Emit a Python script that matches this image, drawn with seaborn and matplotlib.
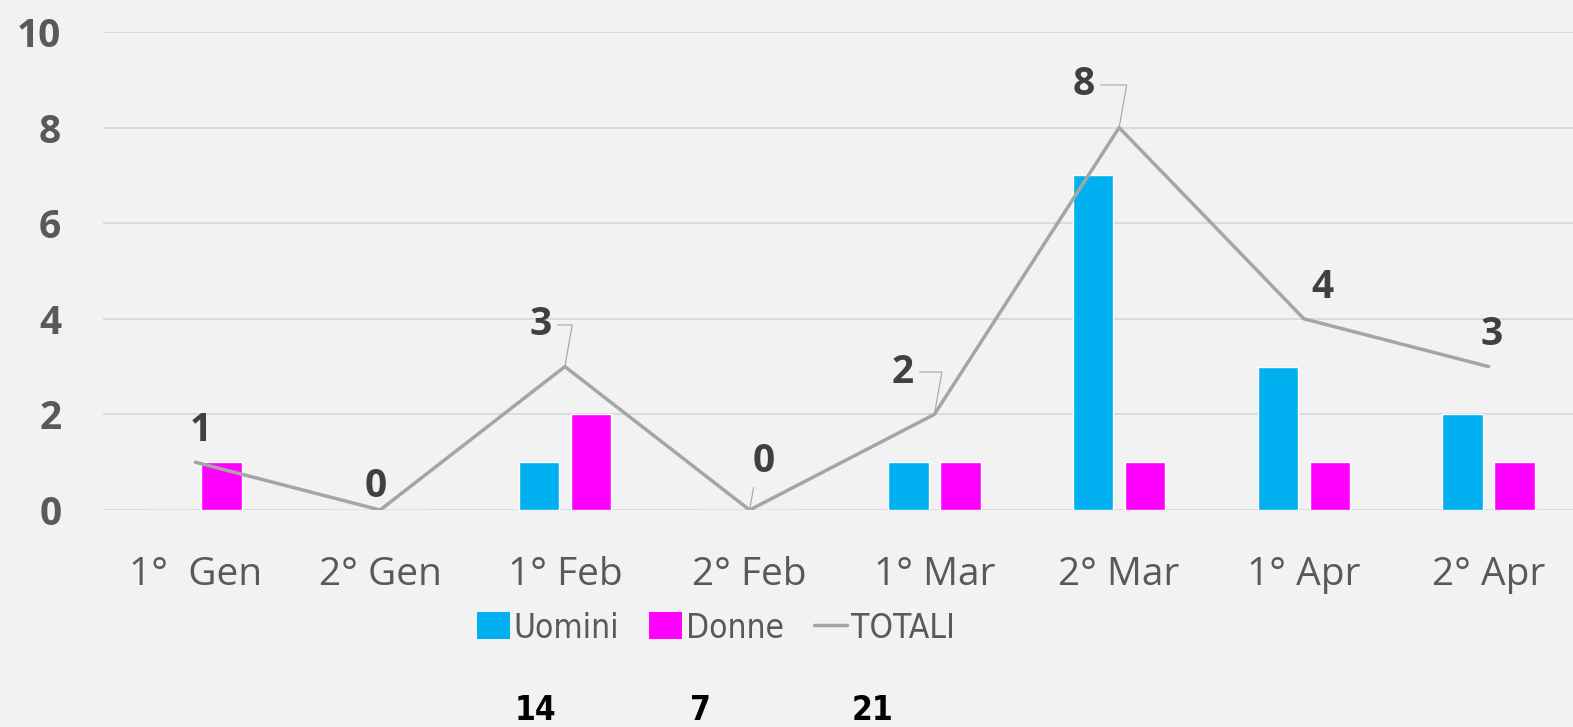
import numpy as np
import pandas as pd
import matplotlib
matplotlib.use("Agg")
import matplotlib.pyplot as plt
from matplotlib import font_manager
from matplotlib.font_manager import FontProperties
from matplotlib.patches import Patch
from matplotlib.lines import Line2D
import seaborn as sns

periods = ["1°  Gen", "2° Gen", "1° Feb", "2° Feb", "1° Mar", "2° Mar", "1° Apr", "2° Apr"]
uomini = [0, 0, 1, 0, 1, 7, 3, 2]
donne = [1, 0, 2, 0, 1, 1, 1, 1]
totali = [1, 0, 3, 0, 2, 8, 4, 3]
series_names = ["Uomini", "Donne", "TOTALI"]
summary_values = ["14", "7", "21"]
y_ticks = [0, 2, 4, 6, 8, 10]

# look for a narrow / condensed face (Calibri-like look)
def find_narrow(bold):
    best = None
    for f in font_manager.fontManager.ttflist:
        fn = f.fname.lower()
        is_narrow = ("narrow" in f.name.lower() or "condensed" in fn or "narrow" in fn
                     or str(f.stretch) in ("condensed", "semi-condensed"))
        if not is_narrow or "mono" in fn or "serif" in fn and "sans" not in fn:
            continue
        w = f.weight if isinstance(f.weight, int) else (700 if "bold" in str(f.weight) else 400)
        if "italic" in str(f.style) or "oblique" in str(f.style):
            continue
        if bold == (w >= 600):
            best = f.fname
            break
    return best

nar_reg = find_narrow(False)
nar_bold = find_narrow(True)
if nar_reg:
    leg_prop = FontProperties(fname=nar_reg, size=24)
else:
    leg_prop = FontProperties(family="Liberation Sans", size=22)
if nar_bold:
    sum_prop = FontProperties(fname=nar_bold, size=24)
else:
    sum_prop = FontProperties(family="Liberation Sans", weight="bold", size=22)

BG = "#F2F2F2"
C_U = "#00B0F0"
C_D = "#FF00FF"
C_T = "#A5A5A5"
TXT = "#595959"

sns.set_theme(style="white")
plt.rcParams["font.family"] = ["Open Sans", "DejaVu Sans"]

fig = plt.figure(figsize=(15.73, 7.27), dpi=100, facecolor=BG)
ax = fig.add_axes([103 / 1573, (727 - 510) / 727, 1478 / 1573, 478 / 727])
ax.set_facecolor(BG)

df = pd.DataFrame({
    "periodo": periods * 2,
    "valore": uomini + donne,
    "sesso": ["Uomini"] * len(periods) + ["Donne"] * len(periods),
})
sns.barplot(data=df, x="periodo", y="valore", hue="sesso", order=periods,
            hue_order=["Uomini", "Donne"], palette=[C_U, C_D],
            width=0.564, gap=0.22, saturation=1, ax=ax, legend=False, errorbar=None)
sns.lineplot(x=list(range(len(periods))), y=totali, color=C_T, linewidth=2.5, ax=ax,
             zorder=3)

ax.set_ylim(0, 10)
ax.set_xlim(-0.5, len(periods) - 0.5)
ax.set_yticks(y_ticks)
ax.set_yticklabels([str(v) for v in y_ticks], fontsize=28, fontweight="bold", color=TXT)
ax.tick_params(axis="y", length=0, pad=30)
ax.tick_params(axis="x", length=0, pad=33, labelsize=28, labelcolor=TXT)
ax.set_xlabel("")
ax.set_ylabel("")
ax.grid(axis="y", color="#D9D9D9", linewidth=1.3)
ax.set_axisbelow(True)
for s in ax.spines.values():
    s.set_visible(False)

# data labels: offsets (points) from each TOTALI point to label centre
offsets = [(3.6, 23), (-2.9, 16.6), (-17.6, 30), (10, 34.6), (-23, 30.5), (-25.6, 30.7),
           (13.5, 22.3), (2.2, 22.8)]
leader = [False, False, True, True, True, True, False, False]
for i, (v, off, ld) in enumerate(zip(totali, offsets, leader)):
    ax.annotate(str(v), xy=(i, v), xytext=off, textcoords="offset points",
                ha="center", va="center", fontsize=28, fontweight="bold", color="#404040",
                arrowprops=(dict(arrowstyle="-", color=C_T, lw=0.8, shrinkA=2, shrinkB=1,
                                 connectionstyle="angle,angleA=0,angleB=80,rad=0")
                            if ld else None),
                zorder=5)

handles = [Patch(facecolor=C_U, edgecolor="none"),
           Patch(facecolor=C_D, edgecolor="none"),
           Line2D([0], [0], color=C_T, lw=2.5)]
fs = leg_prop.get_size()
leg = fig.legend(handles, series_names, loc="center", bbox_to_anchor=(716 / 1573, 1 - 628 / 727),
                 ncol=3, frameon=False, handlelength=33 * 0.72 / fs,
                 handleheight=29 * 0.72 / fs,
                 handletextpad=4 * 0.72 / fs, columnspacing=30 * 0.72 / fs, prop=leg_prop)
for t in leg.get_texts():
    t.set_color(TXT)

for xpix, s in zip([535, 700, 873], summary_values):
    fig.text(xpix / 1573, 1 - 710 / 727, s, ha="center", va="center",
             fontproperties=sum_prop, color="black")

fig.savefig("out.png", dpi=100, facecolor=BG)
